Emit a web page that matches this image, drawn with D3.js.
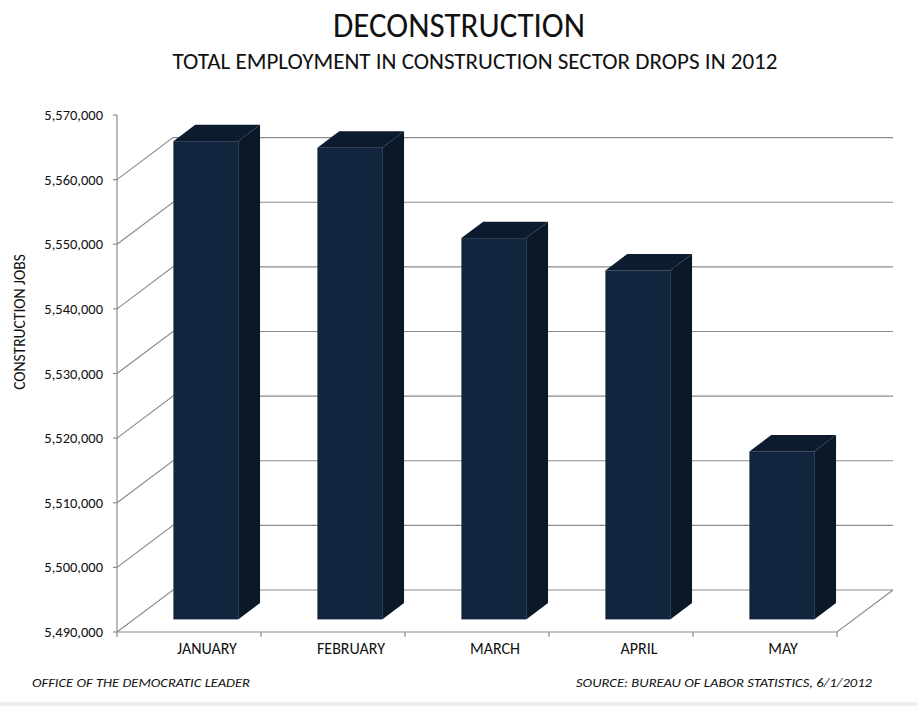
<!DOCTYPE html>
<html lang="en">
<head>
  <meta charset="UTF-8">
  <script src="https://d3js.org/d3.v7.min.js"></script>
  <style>
    body { margin: 0; background: #fff; }
    svg { display: block; }
    text { font-family: Carlito, Calibri, "Open Sans", sans-serif; fill: #111; }
  </style>
</head>
<body>
  <script>
    const months = ["JANUARY", "FEBRUARY", "MARCH", "APRIL", "MAY"];
    const jobs = [5564000, 5563000, 5549000, 5544000, 5516000];
    const yTicks = [5490000, 5500000, 5510000, 5520000, 5530000, 5540000, 5550000, 5560000, 5570000];

    const width = 917;
    const height = 706;

    // front plane of the 3d box, and how far the back wall is shifted
    const plotLeft = 117, plotRight = 837, plotTop = 115, plotBottom = 632;
    const depthX = 56, depthY = -42;
    const t0 = 0.3, t1 = 0.69; // depth range the bars occupy

    const svg = d3.select("body")
      .append("svg")
      .attr("width", width)
      .attr("height", height);

    const x = d3.scaleBand().domain(months).range([plotLeft, plotRight]);
    const y = d3.scaleLinear().domain([5490000, 5570000]).range([plotBottom, plotTop]);
    const barW = x.bandwidth() * 0.45;

    const grid = "#8c8c8c";

    // back wall gridlines + left wall diagonals
    const wallTicks = yTicks.filter(v => v < 5570000);
    svg.selectAll("path.grid")
      .data(wallTicks)
      .enter()
      .append("path")
      .attr("class", "grid")
      .attr("d", d => {
        const yy = y(d);
        return `M${plotLeft},${yy}L${plotLeft + depthX},${yy + depthY}L${plotRight + depthX},${yy + depthY}`;
      })
      .attr("fill", "none")
      .attr("stroke", grid)
      .attr("stroke-width", 1.2);

    // floor front edge and right edge
    svg.append("path")
      .attr("d", `M${plotLeft},${plotBottom}L${plotRight},${plotBottom}L${plotRight + depthX},${plotBottom + depthY}`)
      .attr("fill", "none")
      .attr("stroke", grid)
      .attr("stroke-width", 1.2);

    // y axis line and ticks
    svg.append("line")
      .attr("x1", plotLeft).attr("x2", plotLeft)
      .attr("y1", y(5570000)).attr("y2", plotBottom + 5)
      .attr("stroke", grid).attr("stroke-width", 1.2);

    svg.selectAll("line.ytick")
      .data(yTicks)
      .enter()
      .append("line")
      .attr("class", "ytick")
      .attr("x1", plotLeft - 4).attr("x2", plotLeft)
      .attr("y1", d => y(d)).attr("y2", d => y(d))
      .attr("stroke", grid).attr("stroke-width", 1.2);

    svg.selectAll("text.ylab")
      .data(yTicks)
      .enter()
      .append("text")
      .attr("class", "ylab")
      .attr("x", plotLeft - 14)
      .attr("y", d => y(d))
      .attr("dy", "0.35em")
      .attr("text-anchor", "end")
      .style("font-size", "14.5px")
      .text(d => d3.format(",")(d));

    // x ticks at band boundaries
    svg.selectAll("line.xtick")
      .data(months)
      .enter()
      .append("line")
      .attr("class", "xtick")
      .attr("x1", d => x(d) + x.step()).attr("x2", d => x(d) + x.step())
      .attr("y1", plotBottom).attr("y2", plotBottom + 5)
      .attr("stroke", grid).attr("stroke-width", 1.2);

    // bars as three faces
    const bars = svg.selectAll("g.bar")
      .data(months.map((m, i) => ({ m, v: jobs[i] })))
      .enter()
      .append("g")
      .attr("class", "bar");

    const bx = d => x(d.m) + (x.bandwidth() - barW) / 2;

    // top face
    bars.append("polygon")
      .attr("points", d => {
        const x0 = bx(d), yv = y(d.v);
        return [
          [x0 + depthX * t0, yv + depthY * t0],
          [x0 + barW + depthX * t0, yv + depthY * t0],
          [x0 + barW + depthX * t1, yv + depthY * t1],
          [x0 + depthX * t1, yv + depthY * t1]
        ].join(" ");
      })
      .attr("fill", "#0d1b2f");

    // side face
    bars.append("polygon")
      .attr("points", d => {
        const x1 = bx(d) + barW, yv = y(d.v);
        return [
          [x1 + depthX * t0, yv + depthY * t0],
          [x1 + depthX * t1, yv + depthY * t1],
          [x1 + depthX * t1, plotBottom + depthY * t1],
          [x1 + depthX * t0, plotBottom + depthY * t0]
        ].join(" ");
      })
      .attr("fill", "#0b1828");

    // front face
    bars.append("rect")
      .attr("x", d => bx(d) + depthX * t0)
      .attr("y", d => y(d.v) + depthY * t0)
      .attr("width", barW)
      .attr("height", d => y(5490000) - y(d.v))
      .attr("fill", "#12253f");

    // category labels
    svg.selectAll("text.xlab")
      .data(months)
      .enter()
      .append("text")
      .attr("class", "xlab")
      .attr("x", d => x(d) + x.bandwidth() / 2 + 18)
      .attr("y", 654)
      .attr("text-anchor", "middle")
      .style("font-size", "16px")
      .text(d => d);

    // axis title
    svg.append("text")
      .attr("transform", "translate(25,322) rotate(-90)")
      .attr("text-anchor", "middle")
      .style("font-size", "15.5px")
      .text("CONSTRUCTION  JOBS");

    // titles
    svg.append("text")
      .attr("x", 459).attr("y", 37)
      .attr("text-anchor", "middle")
      .attr("textLength", 252)
      .attr("lengthAdjust", "spacingAndGlyphs")
      .style("font-size", "34px")
      .text("DECONSTRUCTION");

    svg.append("text")
      .attr("x", 475).attr("y", 69)
      .attr("text-anchor", "middle")
      .attr("textLength", 605)
      .attr("lengthAdjust", "spacingAndGlyphs")
      .style("font-size", "22px")
      .text("TOTAL EMPLOYMENT IN CONSTRUCTION SECTOR DROPS IN 2012");

    // footers
    svg.append("text")
      .attr("x", 32).attr("y", 687)
      .attr("textLength", 218)
      .attr("lengthAdjust", "spacingAndGlyphs")
      .style("font-size", "12.5px")
      .style("font-style", "italic")
      .text("OFFICE OF THE DEMOCRATIC LEADER");

    svg.append("text")
      .attr("x", 872).attr("y", 687)
      .attr("text-anchor", "end")
      .attr("textLength", 296)
      .attr("lengthAdjust", "spacingAndGlyphs")
      .style("font-size", "12.5px")
      .style("font-style", "italic")
      .text("SOURCE: BUREAU OF LABOR STATISTICS, 6/1/2012");

    svg.append("rect")
      .attr("x", 0).attr("y", 702)
      .attr("width", width).attr("height", 4)
      .attr("fill", "#ececec");
  </script>
</body>
</html>
